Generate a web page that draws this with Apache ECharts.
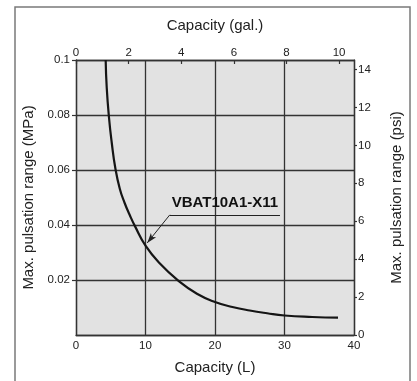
<!DOCTYPE html>
<html>
<head>
<meta charset="utf-8">
<script src="https://cdn.jsdelivr.net/npm/echarts@6/dist/echarts.min.js"></script>
<style>html,body{margin:0;padding:0;background:#fff;}#c{width:417px;height:381px;}</style>
</head>
<body>
<div id="c"></div>
<script>
// Data
var capacityL = [4.27, 4.42, 4.75, 5.14, 5.65, 6.3, 7.0, 7.7, 8.5, 10, 12, 14.8, 17.4, 20, 22.5, 25, 27.5, 30, 34, 37.7];
var pulsationMPa = [0.1, 0.09, 0.079, 0.07, 0.0608, 0.0532, 0.048, 0.0438, 0.0395, 0.0325, 0.0262, 0.0196, 0.015, 0.012, 0.0102, 0.0089, 0.0079, 0.0071, 0.00655, 0.0063];
var seriesName = 'VBAT10A1-X11';
var xTicksL = [0, 10, 20, 30, 40];
var galTicks = [0, 2, 4, 6, 8, 10];
var mpaTicks = [0, 0.02, 0.04, 0.06, 0.08, 0.1];
var psiTicks = [0, 2, 4, 6, 8, 10, 12, 14];
var L_PER_GAL = 3.78541;
var PSI_PER_MPA = 145.038;
// annotation anchor points (data coordinates)
var labelLineStart = [13.5, 0.0437];
var labelLineEnd = [29.35, 0.0437];
var arrowTip = [10.25, 0.0335];

var FONT = 'Liberation Sans, Arial, sans-serif';
var AX = '#333';
var chart = echarts.init(document.getElementById('c'));
var data = capacityL.map(function (x, i) { return [x, pulsationMPa[i]]; });
var lblStyle = { color: '#222', fontSize: 11.5, fontFamily: FONT };
var nameStyle = { color: '#222', fontSize: 15, fontFamily: FONT };

chart.setOption({
  animation: false,
  backgroundColor: '#fff',
  graphic: [{
    type: 'polyline',
    shape: { points: [[15, 400], [15, 7], [410, 7], [410, 400]] },
    style: { stroke: '#7a7a7a', lineWidth: 1.5, fill: null },
    silent: true
  }],
  grid: { left: 76, right: 63, top: 60, bottom: 46, show: true, backgroundColor: '#e2e2e2', borderWidth: 0 },
  xAxis: [{
    type: 'value', position: 'bottom', min: xTicksL[0], max: xTicksL[xTicksL.length - 1], interval: 10,
    name: 'Capacity (L)', nameLocation: 'middle', nameGap: 25, nameTextStyle: nameStyle,
    axisLine: { show: true, lineStyle: { color: AX, width: 1.3 } },
    axisTick: { show: false },
    axisLabel: Object.assign({ margin: 5 }, lblStyle),
    splitLine: { show: true, lineStyle: { color: AX, width: 1.3 } }
  }, {
    type: 'value', position: 'top', min: 0, max: xTicksL[xTicksL.length - 1] / L_PER_GAL,
    name: 'Capacity (gal.)', nameLocation: 'middle', nameGap: 27, nameTextStyle: nameStyle,
    axisLine: { show: true, onZero: false, lineStyle: { color: AX, width: 1.3 } },
    axisTick: { show: true, inside: true, length: 4, customValues: galTicks, lineStyle: { color: AX, width: 1.2 } },
    axisLabel: Object.assign({ margin: 1.5, customValues: galTicks }, lblStyle),
    splitLine: { show: false }
  }],
  yAxis: [{
    type: 'value', position: 'left', min: mpaTicks[0], max: mpaTicks[mpaTicks.length - 1], interval: 0.02,
    name: 'Max. pulsation range (MPa)', nameLocation: 'middle', nameGap: 37, nameTextStyle: nameStyle,
    axisLine: { show: true, lineStyle: { color: AX, width: 1.3 } },
    axisTick: { show: true, length: 4, lineStyle: { color: AX, width: 1.2 } },
    axisLabel: Object.assign({ margin: 6, showMinLabel: false }, lblStyle),
    splitLine: { show: true, lineStyle: { color: AX, width: 1.3 } }
  }, {
    type: 'value', position: 'right', min: 0, max: mpaTicks[mpaTicks.length - 1] * PSI_PER_MPA,
    name: 'Max. pulsation range (psi)', nameLocation: 'middle', nameGap: 35, nameTextStyle: nameStyle,
    axisLine: { show: true, onZero: false, lineStyle: { color: AX, width: 1.3 } },
    axisTick: { show: true, length: 3, customValues: psiTicks, lineStyle: { color: AX, width: 1.2 } },
    axisLabel: Object.assign({ margin: 4, customValues: psiTicks }, lblStyle),
    splitLine: { show: false }
  }],
  series: [{
    name: seriesName,
    type: 'line',
    xAxisIndex: 0, yAxisIndex: 0,
    data: data,
    smooth: 0.5,
    showSymbol: false,
    symbol: 'none',
    lineStyle: { color: '#151515', width: 2.2 },
    clip: true,
    markLine: {
      silent: true,
      animation: false,
      data: [
        [{ coord: labelLineStart, symbol: 'none' }, { coord: labelLineEnd, symbol: 'none',
          label: { show: true, position: 'insideMiddleTop', formatter: seriesName, distance: 4,
                   color: '#111', fontSize: 15, fontWeight: 'bold', fontFamily: FONT } }],
        [{ coord: labelLineStart, symbol: 'none' }, { coord: arrowTip, symbol: 'arrow', symbolSize: [5, 10] }]
      ],
      label: { show: false },
      lineStyle: { color: '#222', width: 1, type: 'solid' },
      symbol: ['none', 'none']
    }
  }]
});
</script>
</body>
</html>
